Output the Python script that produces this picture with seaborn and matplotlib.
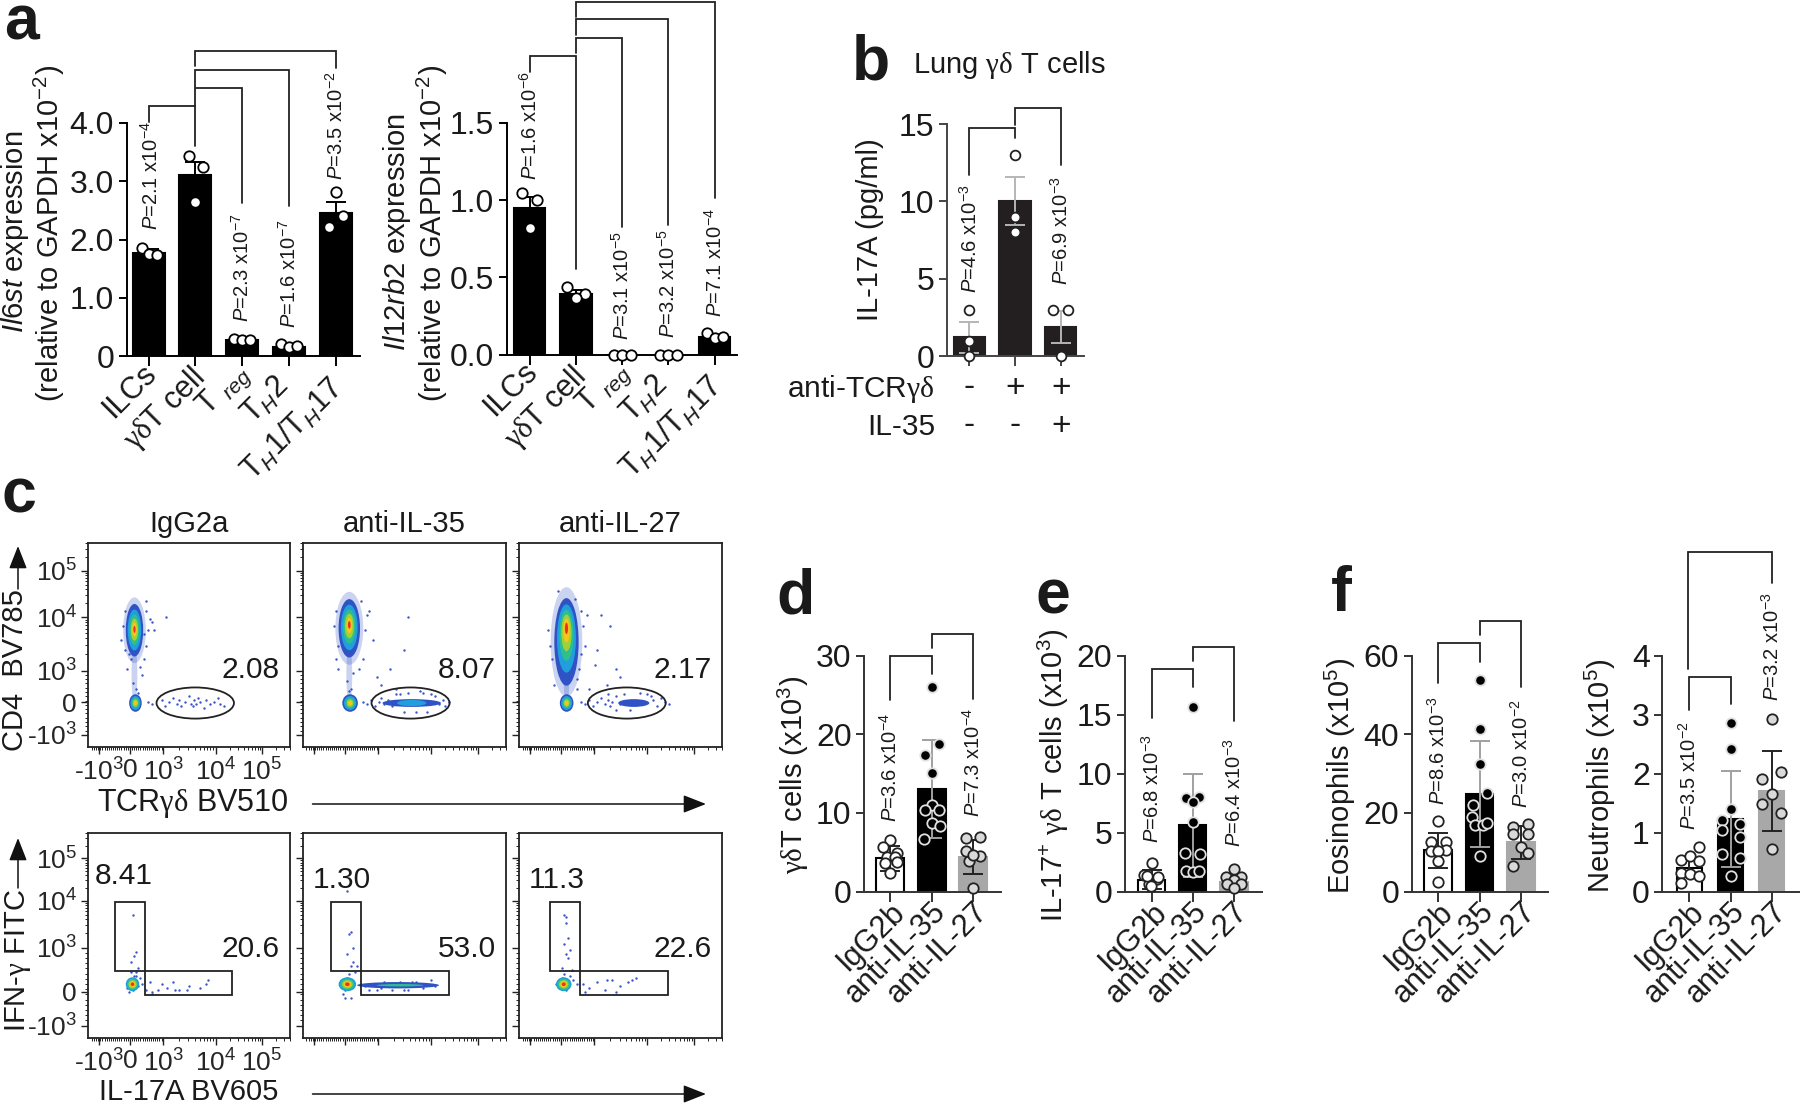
import numpy as np
import pandas as pd
import seaborn as sns
import matplotlib.pyplot as plt
from matplotlib.lines import Line2D
from matplotlib.patches import Ellipse, Rectangle, FancyArrowPatch
from matplotlib.transforms import ScaledTranslation

W, H = 1800, 1104

# a
cells_a = ['ILCs', r'$\mathtt{\gamma\delta}$T cell', r'T $_{\mathit{reg}}$',
           r'T$_{\mathit{H}}$2', r'T$_{\mathit{H}}$1/T$_{\mathit{H}}$17']
il6st_means = [1.77, 3.1, 0.28, 0.16, 2.45]
il6st_errs = [0.06, 0.23, 0.02, 0.02, 0.2]
il6st_points = [[1.85, 1.75, 1.74], [3.43, 3.25, 2.65], [0.3, 0.28, 0.28],
                [0.2, 0.16, 0.18], [2.81, 2.41, 2.21]]
il6st_spread = [[-.15, 0, .17], [-.14, .16, 0], [-.17, 0, .17], [-.17, 0, .17], [0, .15, -.15]]
il12_means = [0.95, 0.39, 0.0, 0.0, 0.115]
il12_errs = [0.07, 0.03, 0.0, 0.0, 0.01]
il12_points = [[1.045, 1.0, 0.82], [0.44, 0.39, 0.365], [0, 0, 0], [0, 0, 0],
               [0.14, 0.11, 0.115]]
il12_spread = [[-.16, .16, 0], [-.18, .19, 0], [-.18, 0, .19], [-.18, 0, .19], [-.16, 0, .18]]

# b
il17_means = [1.2, 10.0, 1.9]
il17_errs = [1.0, 1.55, 1.03]
il17_points = [[3, 1, 0], [13, 9, 8], [3, 3, 0]]
il17_spread = [[0, 0, 0], [0, 0, 0], [-.16, .16, 0]]
tcr_signs = ['-', '+', '+']
il35_signs = ['-', '-', '+']

# d, e, f
treat = ['IgG2b', 'anti-IL-35', 'anti-IL-27']
gd_means = [4.2, 13.0, 4.4]
gd_errs = [1.6, 6.2, 2.2]
gd_points = [[6.6, 5.7, 4.9, 4.4, 4.4, 3.6, 3.7, 2.4],
             [26, 18.7, 17.3, 15.1, 11, 10.3, 10.4, 8.7, 8.3, 6.7],
             [6.8, 6.9, 4.5, 3.9, 5.2, 4.6, 0.5]]
gd_spread = [[0, -.17, .17, -.07, .11, -.13, .15, 0],
             [0, .18, -.16, 0, 0, -.16, .18, 0, .2, -.18],
             [-.17, .17, .18, -.09, -.17, 0, 0]]
il17gd_means = [1.0, 5.6, 0.8]
il17gd_errs = [0.8, 4.4, 0.5]
il17gd_points = [[2.45, 1.43, 1.05, 0.6, 1.3, 1.25, 0.5],
                 [15.6, 7.9, 8.0, 7.6, 5.9, 3.3, 3.2, 1.7, 1.65, 1.7],
                 [1.9, 1.2, 1.2, 1.0, 0.65, 0.65, 0.3]]
il17gd_spread = [[0, -.19, .12, -.06, -.12, .16, -.02],
                 [0, -.16, .16, 0, 0, -.18, .18, -.17, 0, .16],
                 [0, -.2, .18, 0, -.17, .17, 0]]
eos_means = [10.5, 24.8, 12.5]
eos_errs = [4.5, 13.4, 4.2]
eos_points = [[18, 12.6, 12.6, 10.3, 10.5, 10.3, 7.8, 2.4],
              [53.8, 41.2, 32.3, 25, 22, 18.9, 16.8, 16.8, 17.3, 8.9],
              [16.4, 17.1, 14.5, 14.5, 11.4, 9.9, 6.6]]
eos_spread = [[0, -.18, .18, -.18, .18, 0, 0, 0],
              [0, 0, 0, .17, -.17, -.18, -.11, .09, .19, 0],
              [-.18, .18, -.18, .18, 0, .18, -.18]]
neu_means = [0.4, 1.23, 1.7]
neu_errs = [0.15, 0.82, 0.68]
neu_points = [[0.75, 0.53, 0.61, 0.52, 0.32, 0.29, 0.27, 0.15],
              [2.86, 2.42, 1.39, 1.22, 1.15, 1.05, 0.92, 0.63, 0.56, 0.27],
              [2.92, 2.03, 1.9, 1.65, 1.49, 1.33, 0.72]]
neu_spread = [[.23, -.21, .02, .23, -.21, .02, .23, -.21],
              [0, 0, 0, -.2, .22, -.2, .22, -.2, .22, 0],
              [0, .23, -.23, 0, -.23, .23, 0]]

# c, flow cytometry: gates and events, in percent of each plot
titles_c = ['IgG2a', 'anti-IL-35', 'anti-IL-27']
gates_top = ['2.08', '8.07', '2.17']
gates_left = ['8.41', '1.30', '11.3']
gates_right = ['20.6', '53.0', '22.6']
top_pop_x = [24, 24, 24.4]
top_pop_y = [60, 61, 54]
top_pop_w = [9, 11, 12.5]
top_pop_h = [27, 30, 45]
peak_y = [60.5, 63, 62]
low_pop_x = [24.5, 24.4, 24.5]
low_pop_w = [6.5, 8, 7]
band_x = [56, 56, 59]
band_w = [0, 30, 16]
top_dots_x = [[17, 18, 19, 30, 31, 32, 29, 30, 33, 34, 40.5, 20, 28, 25, 23, 26, 22, 27, 21, 29, 30, 19],
              [16, 17, 18, 31, 32, 33, 34, 36, 30, 29, 17, 18, 26, 23, 25, 24, 54, 52, 45, 38, 48, 40],
              [15, 16, 17, 32, 33, 34, 35, 31, 30, 42, 40, 50, 52, 45, 36, 39, 18, 30, 29, 20, 32, 47]]
top_dots_y = [[55, 62, 70, 52, 60, 66, 45, 70, 64, 60, 67, 40, 37, 30, 33, 28, 45, 41, 48, 58, 75, 50],
              [62, 70, 52, 45, 60, 68, 70, 55, 75, 40, 45, 40, 38, 34, 30, 29, 67, 50, 40, 36, 30, 32],
              [60, 52, 45, 70, 62, 52, 68, 40, 35, 68, 50, 40, 36, 32, 30, 42, 32, 30, 76, 80, 48, 62]]
gate_dots_x = [[31, 33, 38, 40, 42, 44, 46, 47, 48, 50, 52, 53, 54, 55, 56, 57, 58, 60, 61, 63, 65, 67, 68, 70],
               [31, 33, 35, 37, 39, 40, 42, 44, 46, 47, 68, 70, 72, 73, 75, 50, 54, 58, 62, 66, 48, 64, 52, 60],
               [32, 34, 36, 38, 40, 42, 44, 46, 47, 48, 50, 52, 69, 71, 73, 75, 77, 54, 66, 62, 57, 68, 46, 50]]
gate_dots_y = [[23, 22, 24, 21, 23, 25, 22, 24, 21, 23, 26, 22, 21, 24, 22, 25, 23, 20, 24, 22, 23, 25, 22, 21],
               [23, 22, 24, 21, 23, 25, 22, 24, 21, 23, 26, 22, 24, 21, 23, 27, 28, 18, 28, 27, 27, 18, 18, 29],
               [23, 22, 24, 21, 23, 25, 22, 24, 21, 23, 26, 22, 24, 21, 25, 23, 22, 27, 27, 28, 19, 26, 27, 19]]
ifn_low_w = [7, 9, 8]
ifn_band_w = [0, 42, 0]
ifn_dots_x = [[20, 21, 22, 23, 24, 25, 26, 27, 28, 23, 24, 22, 25, 21, 26, 22, 25, 25, 32, 36, 38, 41, 44, 45, 51, 58, 61, 62, 52, 47, 30, 33, 33],
              [21, 22, 23, 24, 25, 26, 24, 25, 26, 28, 23, 23, 22, 25, 24, 27, 32, 36, 40, 44, 48, 52, 56, 60, 64, 68, 34, 38, 42, 46, 50, 54, 58, 62, 66],
              [19, 20, 21, 22, 23, 24, 25, 26, 28, 30, 22, 23, 24, 23, 24, 25, 33, 36, 40, 45, 48, 52, 56, 58, 60, 34, 44, 50, 27, 24, 25, 26]]
ifn_dots_y = [[25, 29, 27, 24, 31, 28, 26, 30, 27, 62, 41, 33, 43, 23, 35, 38, 33, 31, 28, 24, 27, 25, 28, 24, 24, 25, 27, 29, 26, 24, 24, 22, 23],
              [22, 24, 30, 32, 36, 38, 52, 53, 45, 36, 74, 42, 20, 20, 27, 33, 26, 27, 25, 27, 26, 24, 28, 26, 27, 26, 24, 24, 28, 24, 28, 24, 28, 25, 29],
              [27, 28, 25, 30, 32, 24, 26, 31, 29, 27, 35, 62, 58, 47, 42, 40, 27, 25, 28, 29, 29, 26, 28, 29, 30, 23, 24, 23, 34, 61, 50, 44]]

# annotation text
p_il6st = ['2.1 x10$^{-4}$', '2.3 x10$^{-7}$', '1.6 x10$^{-7}$', '3.5 x10$^{-2}$']
p_il12 = ['1.6 x10$^{-6}$', '3.1 x10$^{-5}$', '3.2 x10$^{-5}$', '7.1 x10$^{-4}$']
p_il17 = ['4.6 x10$^{-3}$', '6.9 x10$^{-3}$']
p_gd = ['3.6 x10$^{-4}$', '7.3 x10$^{-4}$']
p_il17gd = ['6.8 x10$^{-3}$', '6.4 x10$^{-3}$']
p_eos = ['8.6 x10$^{-3}$', '3.0 x10$^{-2}$']
p_neu = ['3.5 x10$^{-2}$', '3.2 x10$^{-3}$']

sns.set_theme(style='white')
plt.rcParams['font.family'] = ['Liberation Sans', 'DejaVu Sans']
plt.rcParams['mathtext.fontset'] = 'custom'
plt.rcParams['mathtext.rm'] = 'Liberation Sans'
plt.rcParams['mathtext.it'] = 'Liberation Sans:italic'
plt.rcParams['mathtext.bf'] = 'Liberation Sans:bold'
plt.rcParams['mathtext.tt'] = 'Liberation Serif'
plt.rcParams['text.color'] = '#1a1a1a'

fig = plt.figure(figsize=(W / 100, H / 100), dpi=100, facecolor='white')


def px_axes(x0, x1, y_top, y_bot, **kw):
    return fig.add_axes([x0 / W, 1 - y_bot / H, (x1 - x0) / W, (y_bot - y_top) / H], **kw)


def ptext(x, y, s, size=21, **kw):
    kw.setdefault('ha', 'center')
    kw.setdefault('va', 'center')
    fig.text(x / W, 1 - y / H, s, fontsize=size, **kw)


def bracket(xa, ya, top, xb, yb, color='#222222', lw=1.3):
    fig.add_artist(Line2D([xa / W, xa / W, xb / W, xb / W],
                          [1 - ya / H, 1 - top / H, 1 - top / H, 1 - yb / H],
                          color=color, lw=lw, solid_joinstyle='miter'))


def arrow(x0, y0, x1, y1):
    fig.add_artist(FancyArrowPatch((x0 / W, 1 - y0 / H), (x1 / W, 1 - y1 / H),
                                   transform=fig.transFigure, shrinkA=0, shrinkB=0,
                                   arrowstyle='-|>,head_length=14,head_width=5.5',
                                   mutation_scale=1, color='#111111', lw=1.1))


def pval(x, y, s, size=14.5):
    ptext(x, y, r'$\mathit{P}$=' + s, size=size, rotation=90, va='bottom')


def bar_panel(rect, xlim, labels, means, errs, points, spread, ymax, yticks, yticklabels, colors,
              marker_faces, marker_edges, err_colors, width=0.67, spine='#222222', msize=7.5):
    ax = px_axes(*rect)
    df = pd.DataFrame({'group': labels, 'value': means})
    sns.barplot(data=df, x='group', y='value', hue='group', order=labels, hue_order=labels,
                palette=colors, saturation=1, width=width, errorbar=None, legend=False,
                ax=ax, zorder=2)
    for patch, c in zip(ax.patches, colors):
        patch.set_edgecolor('black' if c == 'white' else c)
        patch.set_linewidth(1.5)
    for i, (m, e) in enumerate(zip(means, errs)):
        if e > 0:
            ax.errorbar(i, m, yerr=e, color=err_colors[i], capsize=7, capthick=1.4,
                        elinewidth=1.4, zorder=3, clip_on=False)
    for i, vals in enumerate(points):
        xs = [i + s for s in spread[i]]
        sns.scatterplot(x=xs, y=vals, s=msize ** 2, color=marker_faces[i],
                        edgecolor=marker_edges[i], linewidth=1.3, ax=ax, zorder=4,
                        clip_on=False, legend=False)
    ax.set_xlim(*xlim)
    ax.set_ylim(0, ymax)
    ax.set_xlabel('')
    ax.set_ylabel('')
    ax.set_yticks(yticks)
    ax.set_yticklabels(yticklabels)
    ax.set_xticks(range(len(labels)))
    ax.tick_params(axis='both', length=6, width=1.4, color=spine, labelsize=23,
                   bottom=True, left=True, pad=3, labelcolor='#1a1a1a')
    ax.tick_params(axis='x', length=7)
    sns.despine(ax=ax)
    for side in ['left', 'bottom']:
        ax.spines[side].set_linewidth(1.4)
        ax.spines[side].set_color(spine)
    ax.patch.set_alpha(0)
    return ax


def rotate_labels(ax, labels, shifts, size=22):
    ax.set_xticklabels(labels, rotation=45, ha='right', va='center', rotation_mode='anchor',
                       fontsize=size)
    ax.tick_params(axis='x', pad=6)
    for lab, (dx, dy) in zip(ax.get_xticklabels(), shifts):
        lab.set_transform(lab.get_transform() + ScaledTranslation(dx / 100, dy / 100, fig.dpi_scale_trans))


black = ['black'] * 5
white5 = ['white'] * 5
a_shifts = [(3, 5), (5, 0), (3, 5), (-5, -8), (3, -9)]
ax = bar_panel((126.6, 359.5, 123, 356), (-0.47, 4.506), cells_a, il6st_means, il6st_errs,
               il6st_points, il6st_spread, 4, [0, 1, 2, 3, 4], ['0', '1.0', '2.0', '3.0', '4.0'],
               black, white5, black, black, width=0.68, spine='black')
rotate_labels(ax, cells_a, a_shifts)
ax = bar_panel((506.6, 736.5, 123, 354.5), (-0.495, 4.47), cells_a, il12_means, il12_errs,
               il12_points, il12_spread, 1.5, [0, 0.5, 1, 1.5], ['0.0', '0.5', '1.0', '1.5'],
               black, white5, black, black, width=0.68, spine='black')
rotate_labels(ax, cells_a, a_shifts)

b_labels = ['c1', 'c2', 'c3']
ax = bar_panel((947, 1084, 124, 356), (-0.488, 2.51), b_labels, il17_means, il17_errs,
               il17_points, il17_spread, 15, [0, 5, 10, 15], ['0', '5', '10', '15'],
               ['#231f20'] * 3, ['white'] * 3, ['#222222'] * 3, ['#b5b5b5'] * 3, width=0.68,
               spine='#444444', msize=7)
ax.set_xticklabels([])

faces = ['white', 'black', '#d9d9d9']
edges = ['#222222', '#e0e0e0', '#222222']
bar_cols = ['white', 'black', '#a8a8a8']
err_cols = ['#222222', '#a0a0a0', '#222222']
panels = [((864, 1000.7, 655.5, 891.5), (-0.637, 2.67), gd_means, gd_errs, gd_points, gd_spread, 30,
           [0, 10, 20, 30], 0.67),
          ((1125, 1261.7, 655.5, 891.5), (-0.65, 2.68), il17gd_means, il17gd_errs, il17gd_points,
           il17gd_spread, 20, [0, 5, 10, 15, 20], 0.67),
          ((1411.7, 1547.7, 655.5, 891.5), (-0.644, 2.65), eos_means, eos_errs, eos_points, eos_spread,
           60, [0, 20, 40, 60], 0.67),
          ((1662.3, 1799.5, 655.5, 891.5), (-0.654, 2.67), neu_means, neu_errs, neu_points, neu_spread,
           4, [0, 1, 2, 3, 4], 0.6)]
for rect, xlim, means, errs, pts, spr, ymax, yt, wd in panels:
    ax = bar_panel(rect, xlim, treat, means, errs, pts, spr, ymax, yt, [str(t) for t in yt], bar_cols,
                   faces, edges, err_cols, width=wd, spine='#333333')
    rotate_labels(ax, treat, [(10, 2)] * 3)

# brackets
for xa, ya, top, xb, yb in [(148.6, 122, 106, 195.3, 145.7), (195.3, 106, 87.7, 242, 203),
                            (195.3, 87, 69.7, 288.8, 206), (195.3, 66, 50.7, 335.6, 68.3),
                            (529.5, 71.7, 56, 575.8, 269), (575.8, 53, 37.7, 622, 226.7),
                            (575.8, 35, 19.3, 668.3, 225), (575.8, 16.7, 1.5, 714.6, 198),
                            (969.3, 175, 128.3, 1015.3, 138.3), (1015.3, 125, 108.3, 1061, 165),
                            (890.3, 700, 655.7, 931.7, 674.4), (931.7, 648, 634, 973, 699),
                            (1151.7, 717.7, 669, 1192.7, 687.4), (1192.7, 661, 647, 1233.7, 721),
                            (1438.3, 682.8, 642.6, 1479.7, 662), (1479.7, 635, 620.6, 1520.7, 686.5),
                            (1689.3, 709.5, 677.3, 1730.7, 704), (1688, 669, 552, 1772, 582.5)]:
    bracket(xa, ya, top, xb, yb)

# P values
for x, y, s in zip([151, 242, 288.8, 335.6], [230, 321.7, 328, 180], p_il6st):
    pval(x, y, s)
for x, y, s in zip([529.5, 622, 668.3, 714.6], [180, 340, 338.3, 316.7], p_il12):
    pval(x, y, s)
for x, y, s in zip([970, 1061], [293, 285], p_il17):
    pval(x, y, s)
for x, y, s in zip([890.3, 973], [822, 817], p_gd):
    pval(x, y, s)
for x, y, s in zip([1151.7, 1233.7], [843, 847], p_il17gd):
    pval(x, y, s)
for x, y, s in zip([1438.3, 1520.7], [804.6, 808], p_eos):
    pval(x, y, s)
for x, y, s in zip([1689.3, 1772], [830, 701], p_neu):
    pval(x, y, s)

# y labels
ptext(14.6, 232, r'$\mathit{Il6st}$ expression', rotation=90)
ptext(49, 233, '(relative to GAPDH x10$^{-2}$)', rotation=90)
ptext(397, 232, r'$\mathit{Il12rb2}$ expression', rotation=90)
ptext(432, 233, '(relative to GAPDH x10$^{-2}$)', rotation=90)
ptext(870, 230, 'IL-17A (pg/ml)', rotation=90)
ptext(793, 775, r'$\mathtt{\gamma\delta}$T cells (x10$^{3}$)', rotation=90)
ptext(1053, 775, r'IL-17$^{+}$ $\mathtt{\gamma\delta}$ T cells (x10$^{3}$)', rotation=90)
ptext(1340, 776, 'Eosinophils (x10$^{5}$)', rotation=90)
ptext(1600, 776, 'Neutrophils (x10$^{5}$)', rotation=90)

# panel b annotation
ptext(913, 65, r'Lung $\mathtt{\gamma\delta}$ T cells', ha='left')
ptext(935, 389, r'anti-TCR$\mathtt{\gamma\delta}$', ha='right', size=21.5)
ptext(935, 427, 'IL-35', ha='right', size=21.5)
for x, s1, s2 in zip([969.3, 1015.3, 1061], tcr_signs, il35_signs):
    ptext(x, 388, s1, size=24)
    ptext(x, 426, s2, size=24)

# panel letters
for x, y, s in [(4, 40, 'a'), (852, 80, 'b'), (2, 512, 'c'), (776, 613, 'd'), (1035, 613, 'e'),
                (1331, 611, 'f')]:
    ptext(x, y, s, size=45, ha='left', va='baseline', fontweight='bold', color='#1a1a1a')

# panel c
jet = ['#2f52c4', '#1f9fdc', '#2fbf8f', '#9fd23a', '#f5c71a', '#ee3124']
fracs = [1.0, 0.78, 0.58, 0.42, 0.27, 0.13]
low_fracs = [1.0, 0.8, 0.6, 0.42, 0.26]
xmaj = [5.9, 21.6, 38.8, 65.9, 89.9]
ymaj_top = [6.2, 23, 39.3, 66.7, 90.5]
ymaj_bot = [6.2, 23.3, 45.4, 69, 90.2]
decades = np.log10(np.arange(2, 10))


def flow_ticks(ax, yt, labelled):
    ax.set_xlim(0, 100)
    ax.set_ylim(0, 100)
    ax.set_xticks(xmaj)
    ax.set_yticks(yt)
    xminor = np.r_[np.linspace(2, 38, 34), 38.8 + 27.1 * decades, 65.9 + 24 * decades,
                   (89.9 + 24 * decades)[:3]]
    ym = yt[3] - yt[2]
    yminor = np.r_[np.linspace(yt[0], yt[2], 16), yt[2] + ym * decades, yt[3] + (yt[4] - yt[3]) * decades,
                   yt[4] + (yt[4] - yt[3]) * decades[:3]]
    ax.set_xticks(xminor, minor=True)
    ax.set_yticks(yminor, minor=True)
    ax.tick_params(axis='both', which='major', length=5, width=1.0, color='#222222', labelsize=19,
                   pad=3, bottom=True, left=True)
    ax.tick_params(axis='both', which='minor', length=2.5, width=0.7, color='#222222',
                   bottom=True, left=True)
    ax.set_xticklabels(['-10$^{3}$', '0', '10$^{3}$', '10$^{4}$', '10$^{5}$'] if labelled else [])
    ax.set_yticklabels(['-10$^{3}$', '0', '10$^{3}$', '10$^{4}$', '10$^{5}$'] if labelled else [])
    for sp in ax.spines.values():
        sp.set_linewidth(1.3)
        sp.set_color('#222222')
        sp.set_visible(True)


col_x = [(88, 290), (302.5, 506), (519, 722)]
for i, (x0, x1) in enumerate(col_x):
    ptext((x0 + x1) / 2, 524, titles_c[i], ha='center')

    # CD4 vs TCR
    ax = px_axes(x0, x1, 543, 747)
    sns.scatterplot(x=top_dots_x[i] + gate_dots_x[i], y=top_dots_y[i] + gate_dots_y[i], s=3,
                    color='#3a55c8', linewidth=0, ax=ax, legend=False)
    cx, cy, pw, ph = top_pop_x[i], top_pop_y[i], top_pop_w[i], top_pop_h[i]
    ax.add_patch(Ellipse((cx, cy), pw * 1.3, ph * 1.25, fc='#2f52c4', ec='none', alpha=0.25, zorder=1.5))
    ax.add_patch(Ellipse((cx, 37), 3, 30, fc='#2f52c4', ec='none', alpha=0.25, zorder=1.5))
    for col, f in zip(jet, fracs):
        ax.add_patch(Ellipse((cx, cy + (peak_y[i] - cy) * (1 - f)), pw * f, ph * f, fc=col, ec='none',
                             zorder=2))
    for col, f in zip(jet, low_fracs):
        ax.add_patch(Ellipse((low_pop_x[i], 22.6), low_pop_w[i] * f, 9 * f, fc=col, ec='none', zorder=2))
    if band_w[i]:
        ax.add_patch(Ellipse((band_x[i], 22.6), band_w[i], 4, fc='#2f52c4', ec='none', zorder=2))
    if i == 1:
        ax.add_patch(Ellipse((band_x[i], 22.6), 15, 3.2, fc='#1f9fdc', ec='none', zorder=2))
    ax.add_patch(Ellipse((55.4, 22.6), 40, 16, fc='none', ec='#222222', lw=1.3, zorder=3))
    ax.text(99, 39.7, gates_top[i], ha='right', va='center', fontsize=21.5)
    flow_ticks(ax, ymaj_top, i == 0)

    # IFN-g vs IL-17A
    ax = px_axes(x0, x1, 833, 1038)
    sns.scatterplot(x=ifn_dots_x[i], y=ifn_dots_y[i], s=3, color='#3a55c8', linewidth=0, ax=ax,
                    legend=False)
    for col, f in zip(jet[1:], low_fracs):
        ax.add_patch(Ellipse((23, 27), ifn_low_w[i] * f, 7 * f, fc=col, ec='none', zorder=2))
    if ifn_band_w[i]:
        ax.add_patch(Ellipse((49, 26.5), ifn_band_w[i], 3.2, fc='#2f52c4', ec='none', zorder=2))
        ax.add_patch(Ellipse((50, 26.5), 24, 1.2, fc='#2fbf8f', ec='none', zorder=2))
    off = [0, 0.5, 2][i]
    ax.add_patch(Rectangle((14.1 + off, 33.9), 15.3, 34.3, fc='none', ec='#222222', lw=1.3, zorder=3))
    ax.add_patch(Rectangle((29.4 + off, 21.7), 45.2, 12.2, fc='none', ec='#222222', lw=1.3, zorder=3))
    ax.text([3.5, 5, 5][i], [81.6, 79.6, 79.6][i], gates_left[i], ha='left', va='center', fontsize=21.5)
    ax.text(99, 44.5, gates_right[i], ha='right', va='center', fontsize=21.5)
    flow_ticks(ax, ymaj_bot, i == 0)

ptext(15, 670, 'CD4  BV785', rotation=90)
arrow(18, 589, 18, 546)
ptext(18, 960, r'IFN-$\mathtt{\gamma}$ FITC', rotation=90)
arrow(18, 888, 18, 838)
ptext(193, 804, r'TCR$\mathtt{\gamma\delta}$ BV510', size=22)
arrow(312.5, 804, 706, 804)
ptext(189, 1092, 'IL-17A BV605')
arrow(312.5, 1094, 706, 1094)

fig.savefig('out.png', dpi=100, facecolor='white')
